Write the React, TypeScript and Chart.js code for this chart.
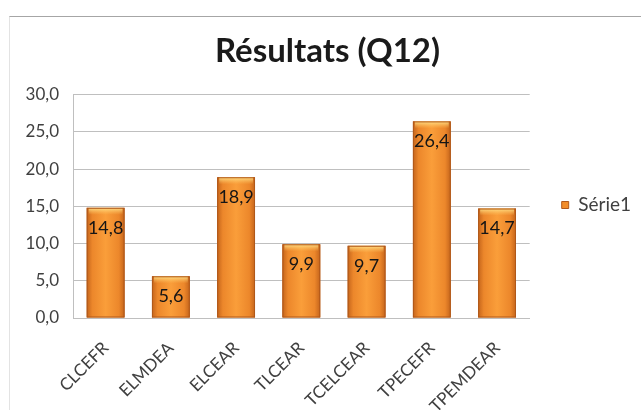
import { useEffect, useRef } from "react";
import { Chart, registerables } from "chart.js";

Chart.register(...registerables);

const categories = ["CLCEFR", "ELMDEA", "ELCEAR", "TLCEAR", "TCELCEAR", "TPECEFR", "TPEMDEAR"];
const values = [14.8, 5.6, 18.9, 9.9, 9.7, 26.4, 14.7];
const seriesName = "Série1";
const chartTitle = "Résultats (Q12)";
const yMin = 0;
const yMax = 30;
const yStep = 5;

const FONT = "Lato, 'Open Sans', sans-serif";
const fmt = (v: number) => v.toFixed(1).replace(".", ",");

// Paints each bar with a cylindrical orange shading and writes its value inside near the top.
const barShading = {
  id: "barShading",
  afterDatasetsDraw(chart: any) {
    const ctx: CanvasRenderingContext2D = chart.ctx;
    const meta = chart.getDatasetMeta(0);
    const data = chart.data.datasets[0].data as number[];
    meta.data.forEach((el: any, i: number) => {
      const { x, y, base, width } = el.getProps(["x", "y", "base", "width"], true);
      const l = x - width / 2;
      const h = base - y;
      ctx.save();
      const g = ctx.createLinearGradient(l, 0, l + width, 0);
      g.addColorStop(0, "#C4641B");
      g.addColorStop(0.15, "#EC872B");
      g.addColorStop(0.5, "#FA9E3A");
      g.addColorStop(0.85, "#EC872B");
      g.addColorStop(1, "#C4641B");
      ctx.fillStyle = g;
      ctx.fillRect(l, y, width, h);
      const tg = ctx.createLinearGradient(0, y, 0, y + 7);
      tg.addColorStop(0, "rgba(255,228,140,0.95)");
      tg.addColorStop(1, "rgba(255,200,100,0)");
      ctx.fillStyle = tg;
      ctx.fillRect(l + 2, y, width - 4, 7);
      ctx.strokeStyle = "#B0581A";
      ctx.lineWidth = 1;
      ctx.strokeRect(l + 0.5, y + 0.5, width - 1, h - 1);
      ctx.fillStyle = "#151515";
      ctx.font = `18px ${FONT}`;
      ctx.textAlign = "center";
      ctx.textBaseline = "middle";
      ctx.fillText(fmt(data[i]), x, y + 20);
      ctx.restore();
    });
  },
};

// Nudges the title block a few pixels right so it sits centred over the framed chart.
const titleOffset = {
  id: "titleOffset",
  afterLayout(chart: any) {
    const t = chart.titleBlock;
    if (t) {
      t.left += 7;
      t.right += 7;
    }
  },
};

export default function App() {
  const canvasRef = useRef<HTMLCanvasElement | null>(null);

  useEffect(() => {
    if (!canvasRef.current) return;
    const chart = new Chart(canvasRef.current, {
      type: "bar",
      data: {
        labels: categories,
        datasets: [
          {
            label: seriesName,
            data: values,
            backgroundColor: "#F28C28",
            borderColor: "#B0581A",
            borderWidth: 1,
            categoryPercentage: 0.58,
            barPercentage: 1,
          },
        ],
      },
      plugins: [barShading, titleOffset],
      options: {
        responsive: false,
        animation: false,
        layout: { padding: { left: 0, right: 0, top: 0, bottom: 0 } },
        plugins: {
          title: {
            display: true,
            text: chartTitle,
            color: "#1A1A1A",
            font: { family: FONT, size: 33, weight: "bold" },
            padding: { top: 32, bottom: 23 },
          },
          legend: {
            display: true,
            position: "right",
            labels: {
              boxWidth: 7,
              boxHeight: 7,
              color: "#404040",
              font: { family: FONT, size: 19 },
              padding: 32,
            },
          },
          tooltip: { enabled: false },
        },
        scales: {
          x: {
            grid: { display: false },
            border: { display: true, color: "#BFBFBF" },
            ticks: {
              color: "#404040",
              font: { family: FONT, size: 17 },
              minRotation: 45,
              maxRotation: 45,
              padding: 12,
            },
            afterFit: (s: any) => {
              s.height = 92;
            },
          },
          y: {
            min: yMin,
            max: yMax,
            ticks: {
              stepSize: yStep,
              color: "#404040",
              font: { family: FONT, size: 17 },
              padding: 14,
              callback: (v: any) => fmt(Number(v)),
            },
            grid: { color: "#BFBFBF", drawTicks: false },
            border: { display: true, color: "#BFBFBF" },
            afterFit: (s: any) => {
              s.width = 73;
            },
          },
        },
      },
    });
    return () => chart.destroy();
  }, []);

  return (
    <div style={{ position: "absolute", left: 0, top: 0, width: 641, height: 410, background: "#FFFFFF", overflow: "hidden" }}>
      <div
        style={{
          position: "absolute",
          left: 9,
          top: 16,
          width: 700,
          height: 500,
          borderTop: "1px solid #A6A6A6",
          borderLeft: "1px solid #E3E3E3",
        }}
      />
      <canvas ref={canvasRef} width={641} height={410} style={{ position: "absolute", left: 0, top: 0 }} />
    </div>
  );
}
